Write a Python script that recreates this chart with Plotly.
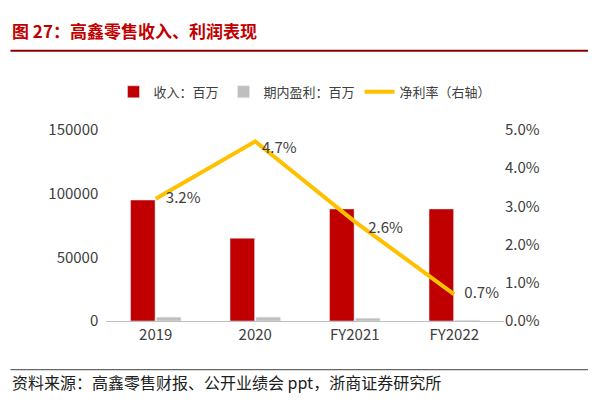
import plotly.graph_objects as go

years = ["2019", "2020", "FY2021", "FY2022"]
revenue = [95000, 65000, 88000, 88000]
profit = [3000, 3000, 2200, 600]
margin = [3.2, 4.7, 2.6, 0.7]
margin_labels = ["   3.2%", "  4.7%", "    2.6%", "   0.7%"]

font = "Noto Sans CJK SC"

fig = go.Figure()
fig.add_trace(go.Bar(x=years, y=revenue, name="收入：百万", marker_color="#C00000"))
fig.add_trace(go.Bar(x=years, y=profit, name="期内盈利：百万", marker_color="#BFBFBF"))
fig.add_trace(go.Scatter(
    x=years, y=margin, name="净利率（右轴）", yaxis="y2", mode="lines+text",
    line=dict(color="#FFC000", width=4), text=margin_labels,
    textposition=["middle right", "bottom right", "bottom right", "middle right"],
    textfont=dict(size=15, color="#404040"),
))

fig.update_layout(
    width=596, height=413,
    margin=dict(l=98, r=100, t=122, b=100),
    paper_bgcolor="white", plot_bgcolor="white",
    font=dict(family=font, size=14, color="#404040"),
    barmode="group", bargap=0.48, bargroupgap=0.05,
    showlegend=True,
    legend=dict(orientation="h", x=0.5, xanchor="center", y=1.20, yanchor="middle",
                font=dict(size=13, color="#404040"), entrywidth=0, tracegroupgap=0),
    xaxis=dict(showline=True, linecolor="#BFBFBF", ticks="", tickfont=dict(size=15)),
    yaxis=dict(range=[0, 150000], dtick=50000, showgrid=False, tickfont=dict(size=15),
               tickformat="d", ticksuffix="  "),
    yaxis2=dict(range=[0, 5], dtick=1, overlaying="y", side="right", showgrid=False,
                tickformat=".1f", ticksuffix="%", tickfont=dict(size=15)),
    annotations=[
        dict(text="<b>图 27：高鑫零售收入、利润表现</b>", xref="paper", yref="paper",
             x=-0.24, y=1.52, xanchor="left", yanchor="middle", showarrow=False,
             font=dict(size=17, color="#C00000")),
        dict(text="资料来源：高鑫零售财报、公开业绩会 ppt，浙商证券研究所", xref="paper", yref="paper",
             x=-0.24, y=-0.32, xanchor="left", yanchor="middle", showarrow=False,
             font=dict(size=16, color="#202020")),
    ],
    shapes=[
        dict(type="line", xref="paper", yref="paper", x0=-0.24, x1=1.25, y0=1.415, y1=1.415,
             line=dict(color="#8B0000", width=2)),
        dict(type="line", xref="paper", yref="paper", x0=-0.24, x1=1.25, y0=-0.255, y1=-0.255,
             line=dict(color="#404040", width=1)),
    ],
)

fig.write_html("out.html")
